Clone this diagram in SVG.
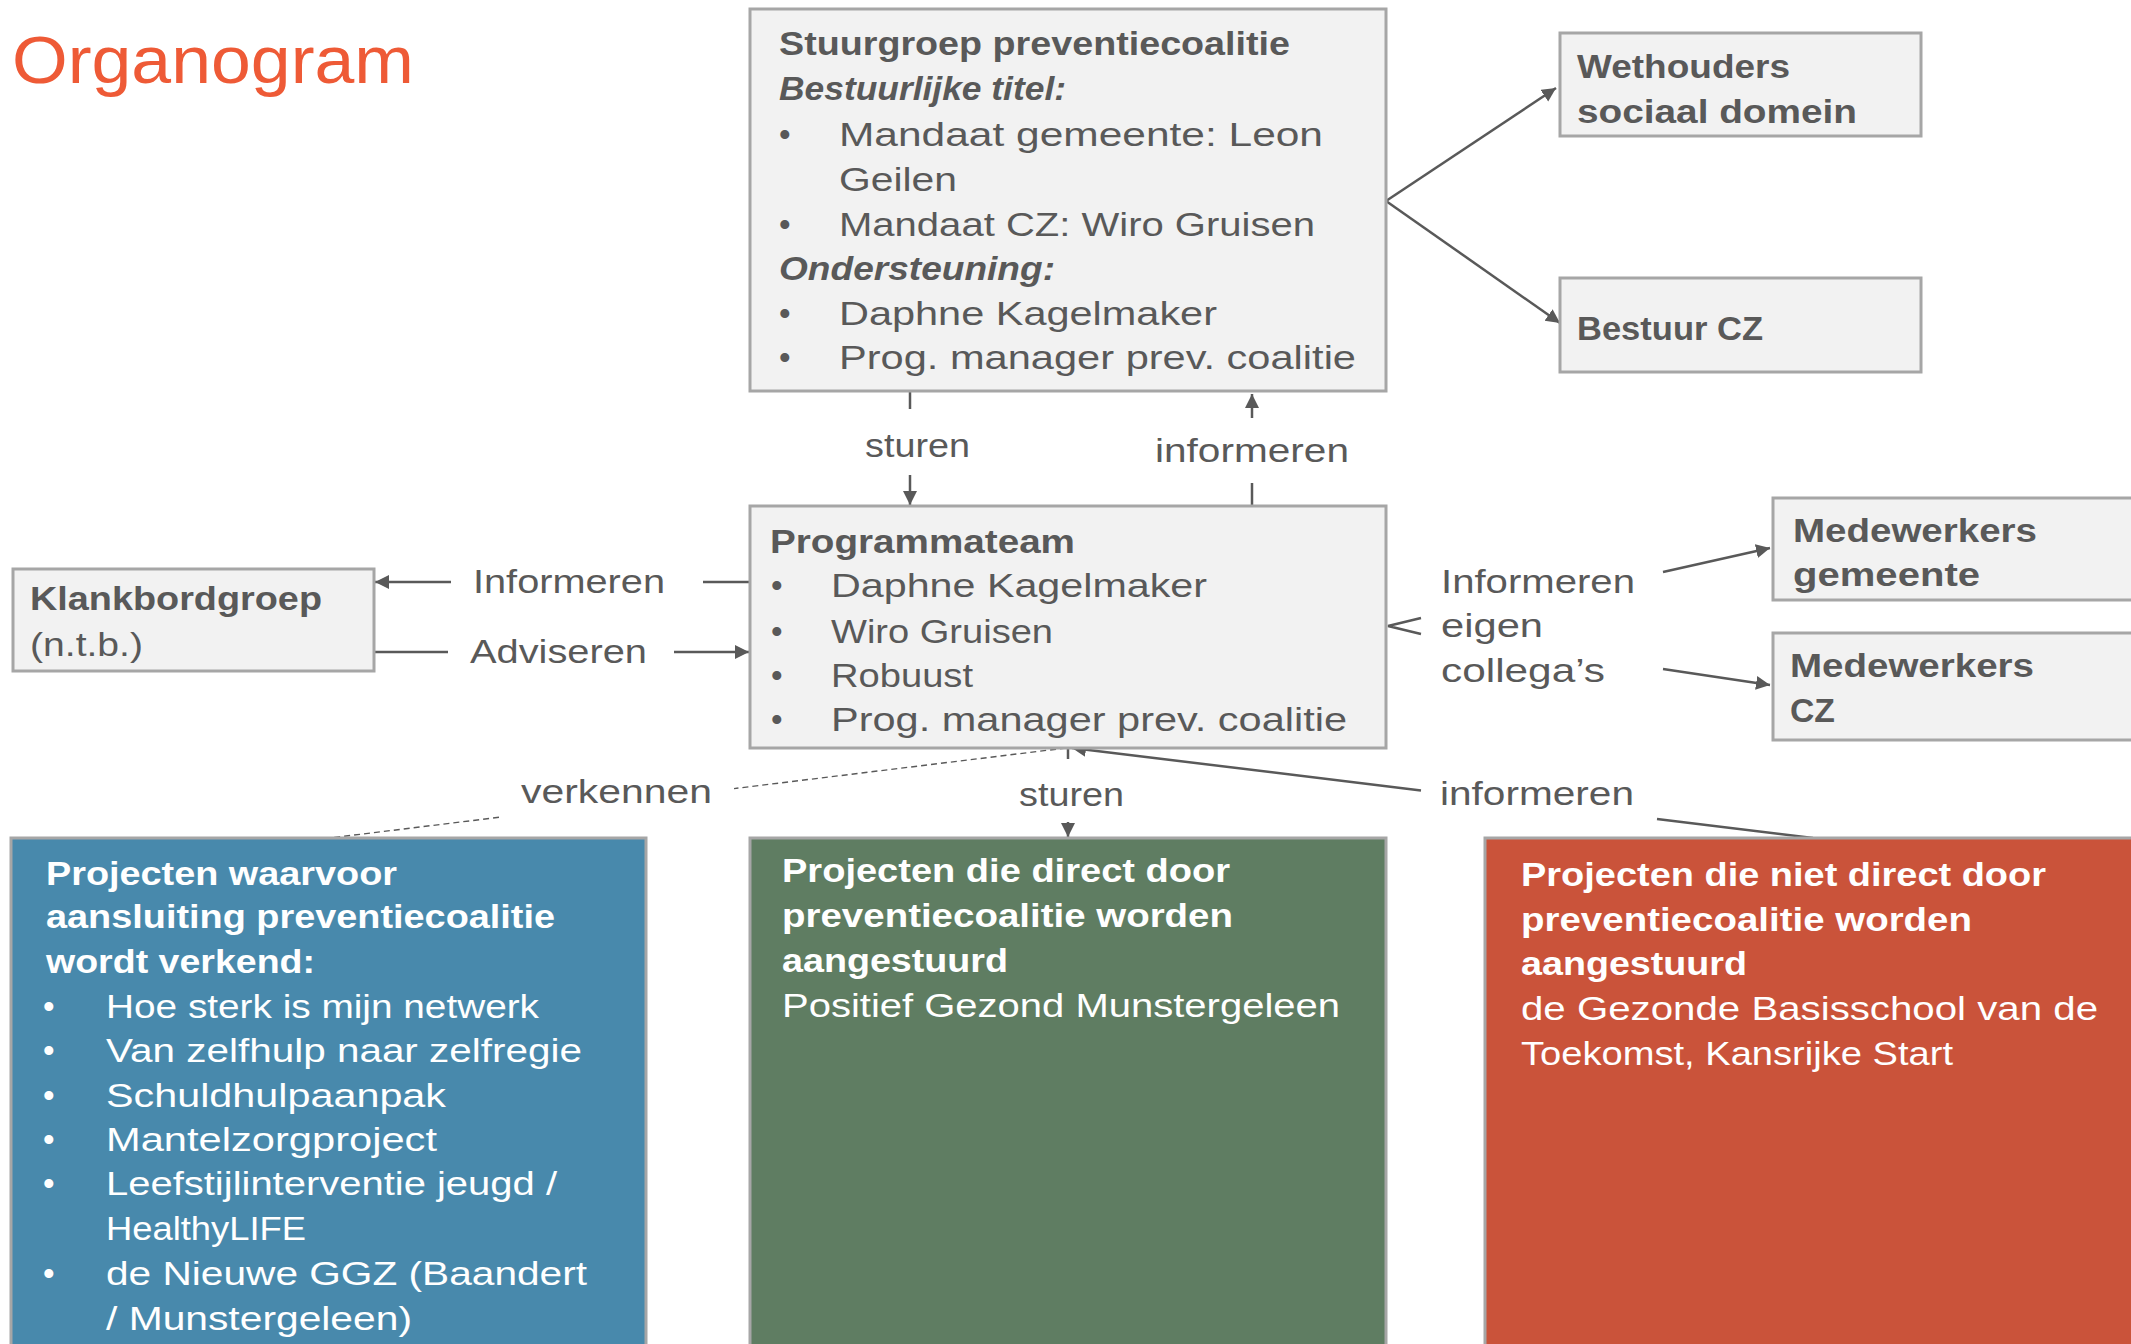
<svg xmlns="http://www.w3.org/2000/svg" width="2131" height="1344" viewBox="0 0 2131 1344">
<style>
text{font-family:"Liberation Sans",Arial,sans-serif;font-size:33px;fill:#595959}
.b{font-weight:bold}
.bi{font-weight:bold;font-style:italic}
.w{fill:#ffffff}
.title{font-size:67px;fill:#EE5A36}
.box{fill:#F2F2F2;stroke:#A6A6A6;stroke-width:3}
.blue{fill:#4889AC;stroke:#A6A6A6;stroke-width:3}
.green{fill:#5F7D62;stroke:#A6A6A6;stroke-width:3}
.red{fill:#CA533A;stroke:#A6A6A6;stroke-width:3}
.ln{stroke:#595959;stroke-width:2.5;fill:none}
.arr{marker-end:url(#ah)}
.dash{stroke:#595959;stroke-width:1.4;stroke-dasharray:6 4;fill:none}
</style>
<defs>
<marker id="ah" markerUnits="userSpaceOnUse" markerWidth="16" markerHeight="16" refX="14" refY="7" orient="auto">
<path d="M0,0 L14,7 L0,14 z" fill="#595959"/>
</marker>
</defs>
<rect width="2131" height="1344" fill="#ffffff"/>
<text class="title" x="12" y="83" textLength="402" lengthAdjust="spacingAndGlyphs">Organogram</text>

<g id="connectors">
<line class="ln arr" x1="1386" y1="201" x2="1556" y2="88"/>
<line class="ln arr" x1="1386" y1="201" x2="1560" y2="323"/>
<line class="ln" x1="910" y1="391" x2="910" y2="409"/>
<line class="ln arr" x1="910" y1="475" x2="910" y2="505"/>
<line class="ln arr" x1="1252" y1="418" x2="1252" y2="394"/>
<line class="ln" x1="1252" y1="483" x2="1252" y2="506"/>
<line class="ln" x1="750" y1="582" x2="703" y2="582"/>
<line class="ln arr" x1="451" y1="582" x2="375" y2="582"/>
<line class="ln" x1="374" y1="652" x2="448" y2="652"/>
<line class="ln arr" x1="674" y1="652" x2="749" y2="652"/>
<path class="ln" d="M1421,618 L1388,626 L1421,634"/>
<line class="ln arr" x1="1663" y1="572" x2="1770" y2="548"/>
<line class="ln arr" x1="1663" y1="669" x2="1770" y2="685"/>
<line class="dash" x1="1066" y1="748" x2="734" y2="788.6"/>
<line class="dash" x1="499" y1="817.3" x2="330" y2="838"/>
<line class="ln" x1="1813" y1="838" x2="1657" y2="819"/>
<line class="ln arr" x1="1421" y1="790.4" x2="1072" y2="748"/>
<line class="ln" x1="1068" y1="748" x2="1068" y2="759"/>
<line class="ln arr" x1="1068" y1="822" x2="1068" y2="837"/>
<text x="865" y="457" textLength="105" lengthAdjust="spacingAndGlyphs">sturen</text>
<text x="1155" y="462" textLength="194" lengthAdjust="spacingAndGlyphs">informeren</text>
<text x="473" y="593" textLength="192" lengthAdjust="spacingAndGlyphs">Informeren</text>
<text x="470" y="663" textLength="177" lengthAdjust="spacingAndGlyphs">Adviseren</text>
<text x="521" y="803" textLength="191" lengthAdjust="spacingAndGlyphs">verkennen</text>
<text x="1019" y="806" textLength="105" lengthAdjust="spacingAndGlyphs">sturen</text>
<text x="1440" y="805" textLength="194" lengthAdjust="spacingAndGlyphs">informeren</text>
<text x="1441" y="593" textLength="194" lengthAdjust="spacingAndGlyphs">Informeren</text>
<text x="1441" y="637" textLength="102" lengthAdjust="spacingAndGlyphs">eigen</text>
<text x="1441" y="682" textLength="164" lengthAdjust="spacingAndGlyphs">collega’s</text>
</g>

<g id="stuurgroep">
<rect class="box" x="750" y="9" width="636" height="382"/>
<text class="b" x="779" y="55" textLength="511" lengthAdjust="spacingAndGlyphs">Stuurgroep preventiecoalitie</text>
<text class="bi" x="779" y="100" textLength="287" lengthAdjust="spacingAndGlyphs">Bestuurlijke titel:</text>
<text x="779" y="146">•</text>
<text x="839" y="146" textLength="484" lengthAdjust="spacingAndGlyphs">Mandaat gemeente: Leon</text>
<text x="839" y="191" textLength="118" lengthAdjust="spacingAndGlyphs">Geilen</text>
<text x="779" y="236">•</text>
<text x="839" y="236" textLength="476" lengthAdjust="spacingAndGlyphs">Mandaat CZ: Wiro Gruisen</text>
<text class="bi" x="779" y="280" textLength="276" lengthAdjust="spacingAndGlyphs">Ondersteuning:</text>
<text x="779" y="325">•</text>
<text x="839" y="325" textLength="378" lengthAdjust="spacingAndGlyphs">Daphne Kagelmaker</text>
<text x="779" y="369">•</text>
<text x="839" y="369" textLength="517" lengthAdjust="spacingAndGlyphs">Prog. manager prev. coalitie</text>
</g>

<g id="wethouders">
<rect class="box" x="1560" y="33" width="361" height="103"/>
<text class="b" x="1577" y="78" textLength="213" lengthAdjust="spacingAndGlyphs">Wethouders</text>
<text class="b" x="1577" y="123" textLength="280" lengthAdjust="spacingAndGlyphs">sociaal domein</text>
</g>

<g id="bestuur-cz">
<rect class="box" x="1560" y="278" width="361" height="94"/>
<text class="b" x="1577" y="340" textLength="186" lengthAdjust="spacingAndGlyphs">Bestuur CZ</text>
</g>

<g id="programmateam">
<rect class="box" x="750" y="506" width="636" height="242"/>
<text class="b" x="770" y="553" textLength="305" lengthAdjust="spacingAndGlyphs">Programmateam</text>
<text x="771" y="597">•</text>
<text x="831" y="597" textLength="376" lengthAdjust="spacingAndGlyphs">Daphne Kagelmaker</text>
<text x="771" y="643">•</text>
<text x="831" y="643" textLength="222" lengthAdjust="spacingAndGlyphs">Wiro Gruisen</text>
<text x="771" y="687">•</text>
<text x="831" y="687" textLength="142" lengthAdjust="spacingAndGlyphs">Robuust</text>
<text x="771" y="731">•</text>
<text x="831" y="731" textLength="516" lengthAdjust="spacingAndGlyphs">Prog. manager prev. coalitie</text>
</g>

<g id="klankbordgroep">
<rect class="box" x="13" y="569" width="361" height="102"/>
<text class="b" x="30" y="610" textLength="292" lengthAdjust="spacingAndGlyphs">Klankbordgroep</text>
<text x="30" y="656" textLength="113" lengthAdjust="spacingAndGlyphs">(n.t.b.)</text>
</g>

<g id="medewerkers-gemeente">
<rect class="box" x="1773" y="498" width="370" height="102"/>
<text class="b" x="1793" y="542" textLength="244" lengthAdjust="spacingAndGlyphs">Medewerkers</text>
<text class="b" x="1793" y="586" textLength="187" lengthAdjust="spacingAndGlyphs">gemeente</text>
</g>

<g id="medewerkers-cz">
<rect class="box" x="1773" y="633" width="370" height="107"/>
<text class="b" x="1790" y="677" textLength="244" lengthAdjust="spacingAndGlyphs">Medewerkers</text>
<text class="b" x="1790" y="722" textLength="45" lengthAdjust="spacingAndGlyphs">CZ</text>
</g>

<g id="projecten-verkend">
<rect class="blue" x="11" y="838" width="635" height="520"/>
<text class="b w" x="46" y="885" textLength="351" lengthAdjust="spacingAndGlyphs">Projecten waarvoor</text>
<text class="b w" x="46" y="928" textLength="509" lengthAdjust="spacingAndGlyphs">aansluiting preventiecoalitie</text>
<text class="b w" x="46" y="973" textLength="269" lengthAdjust="spacingAndGlyphs">wordt verkend:</text>
<text class="w" x="43" y="1018">•</text>
<text class="w" x="106" y="1018" textLength="433" lengthAdjust="spacingAndGlyphs">Hoe sterk is mijn netwerk</text>
<text class="w" x="43" y="1062">•</text>
<text class="w" x="106" y="1062" textLength="476" lengthAdjust="spacingAndGlyphs">Van zelfhulp naar zelfregie</text>
<text class="w" x="43" y="1107">•</text>
<text class="w" x="106" y="1107" textLength="340" lengthAdjust="spacingAndGlyphs">Schuldhulpaanpak</text>
<text class="w" x="43" y="1151">•</text>
<text class="w" x="106" y="1151" textLength="331" lengthAdjust="spacingAndGlyphs">Mantelzorgproject</text>
<text class="w" x="43" y="1195">•</text>
<text class="w" x="106" y="1195" textLength="451" lengthAdjust="spacingAndGlyphs">Leefstijlinterventie jeugd /</text>
<text class="w" x="106" y="1240" textLength="200" lengthAdjust="spacingAndGlyphs">HealthyLIFE</text>
<text class="w" x="43" y="1285">•</text>
<text class="w" x="106" y="1285" textLength="481" lengthAdjust="spacingAndGlyphs">de Nieuwe GGZ (Baandert</text>
<text class="w" x="106" y="1330" textLength="306" lengthAdjust="spacingAndGlyphs">/ Munstergeleen)</text>
</g>

<g id="projecten-direct">
<rect class="green" x="750" y="838" width="636" height="520"/>
<text class="b w" x="782" y="882" textLength="448" lengthAdjust="spacingAndGlyphs">Projecten die direct door</text>
<text class="b w" x="782" y="927" textLength="451" lengthAdjust="spacingAndGlyphs">preventiecoalitie worden</text>
<text class="b w" x="782" y="972" textLength="226" lengthAdjust="spacingAndGlyphs">aangestuurd</text>
<text class="w" x="782" y="1017" textLength="558" lengthAdjust="spacingAndGlyphs">Positief Gezond Munstergeleen</text>
</g>

<g id="projecten-niet-direct">
<rect class="red" x="1485" y="838" width="660" height="520"/>
<text class="b w" x="1521" y="886" textLength="525" lengthAdjust="spacingAndGlyphs">Projecten die niet direct door</text>
<text class="b w" x="1521" y="931" textLength="451" lengthAdjust="spacingAndGlyphs">preventiecoalitie worden</text>
<text class="b w" x="1521" y="975" textLength="226" lengthAdjust="spacingAndGlyphs">aangestuurd</text>
<text class="w" x="1521" y="1020" textLength="577" lengthAdjust="spacingAndGlyphs">de Gezonde Basisschool van de</text>
<text class="w" x="1521" y="1065" textLength="432" lengthAdjust="spacingAndGlyphs">Toekomst, Kansrijke Start</text>
</g>
</svg>
